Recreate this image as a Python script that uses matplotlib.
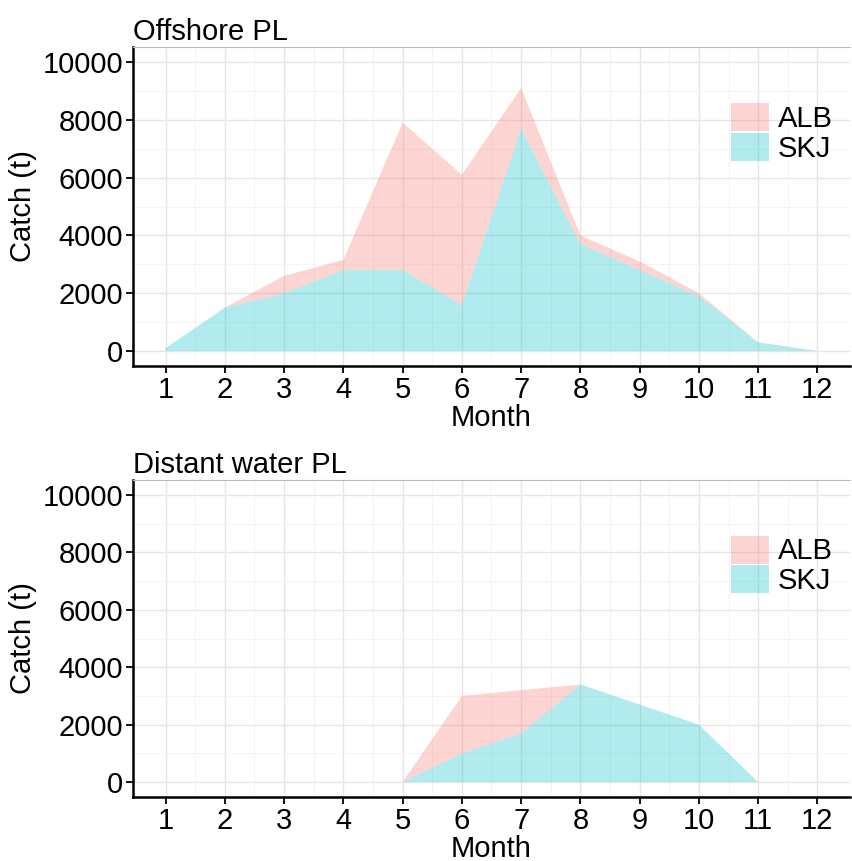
import matplotlib
matplotlib.use("Agg")
import matplotlib.pyplot as plt
import numpy as np

plt.rcParams['font.family'] = ['Liberation Sans', 'DejaVu Sans']

months = np.arange(1, 13)
offshore_skj = [100, 1500, 2000, 2800, 2800, 1600, 7700, 3700, 2800, 1900, 300, 0]
offshore_total = [100, 1500, 2600, 3150, 7900, 6100, 9100, 4000, 3100, 2000, 300, 0]
distant_skj = [0, 0, 0, 0, 0, 1000, 1700, 3400, 2700, 2000, 0, 0]
distant_total = [0, 0, 0, 0, 0, 3000, 3200, 3400, 2700, 2000, 0, 0]

panels = [("Offshore PL", offshore_skj, offshore_total),
          ("Distant water PL", distant_skj, distant_total)]

fig = plt.figure(figsize=(8.52, 8.61), dpi=100)
W, H = 852, 861
boxes = [(133, 47, 850, 366), (133, 480, 850, 797)]

for (title, skj, total), (x0, y0, x1, y1) in zip(panels, boxes):
    ax = fig.add_axes([x0 / W, 1 - y1 / H, (x1 - x0) / W, (y1 - y0) / H])
    alb = np.array(total) - np.array(skj)
    ax.stackplot(months, skj, alb, colors=["#00BFC4", "#F8766D"], alpha=0.3,
                 labels=["SKJ", "ALB"], linewidth=0)
    ax.set_xlim(0.45, 12.55)
    ax.set_ylim(-520, 10520)
    ax.set_xticks(months)
    ax.set_yticks(range(0, 10001, 2000))
    ax.set_xticks(np.arange(1.5, 12, 1), minor=True)
    ax.set_yticks(range(1000, 10001, 2000), minor=True)
    ax.grid(True, which="major", color="#e6e6e6", linewidth=1)
    ax.grid(True, which="minor", color="#f2f2f2", linewidth=0.6)
    ax.set_axisbelow(True)
    ax.spines["right"].set_visible(False)
    ax.spines["top"].set_color("#bbbbbb")
    ax.spines["top"].set_linewidth(0.8)
    for s in ["left", "bottom"]:
        ax.spines[s].set_linewidth(1.8)
    ax.tick_params(labelsize=21, width=1.3, length=5, which="major", pad=2)
    ax.tick_params(which="minor", length=0)
    ax.set_xlabel("Month", fontsize=21, labelpad=0)
    ax.set_ylabel("Catch (t)", fontsize=21, labelpad=4)
    ax.set_title(title, fontsize=21, loc="left", pad=5)
    h, l = ax.get_legend_handles_labels()
    ax.legend(h[::-1], l[::-1], loc="upper right", bbox_to_anchor=(1.0, 0.88),
              frameon=False, fontsize=21, handlelength=1.3, handleheight=1.1,
              labelspacing=0.0, borderaxespad=0.2, handletextpad=0.3)

fig.savefig("out.png", dpi=100)
